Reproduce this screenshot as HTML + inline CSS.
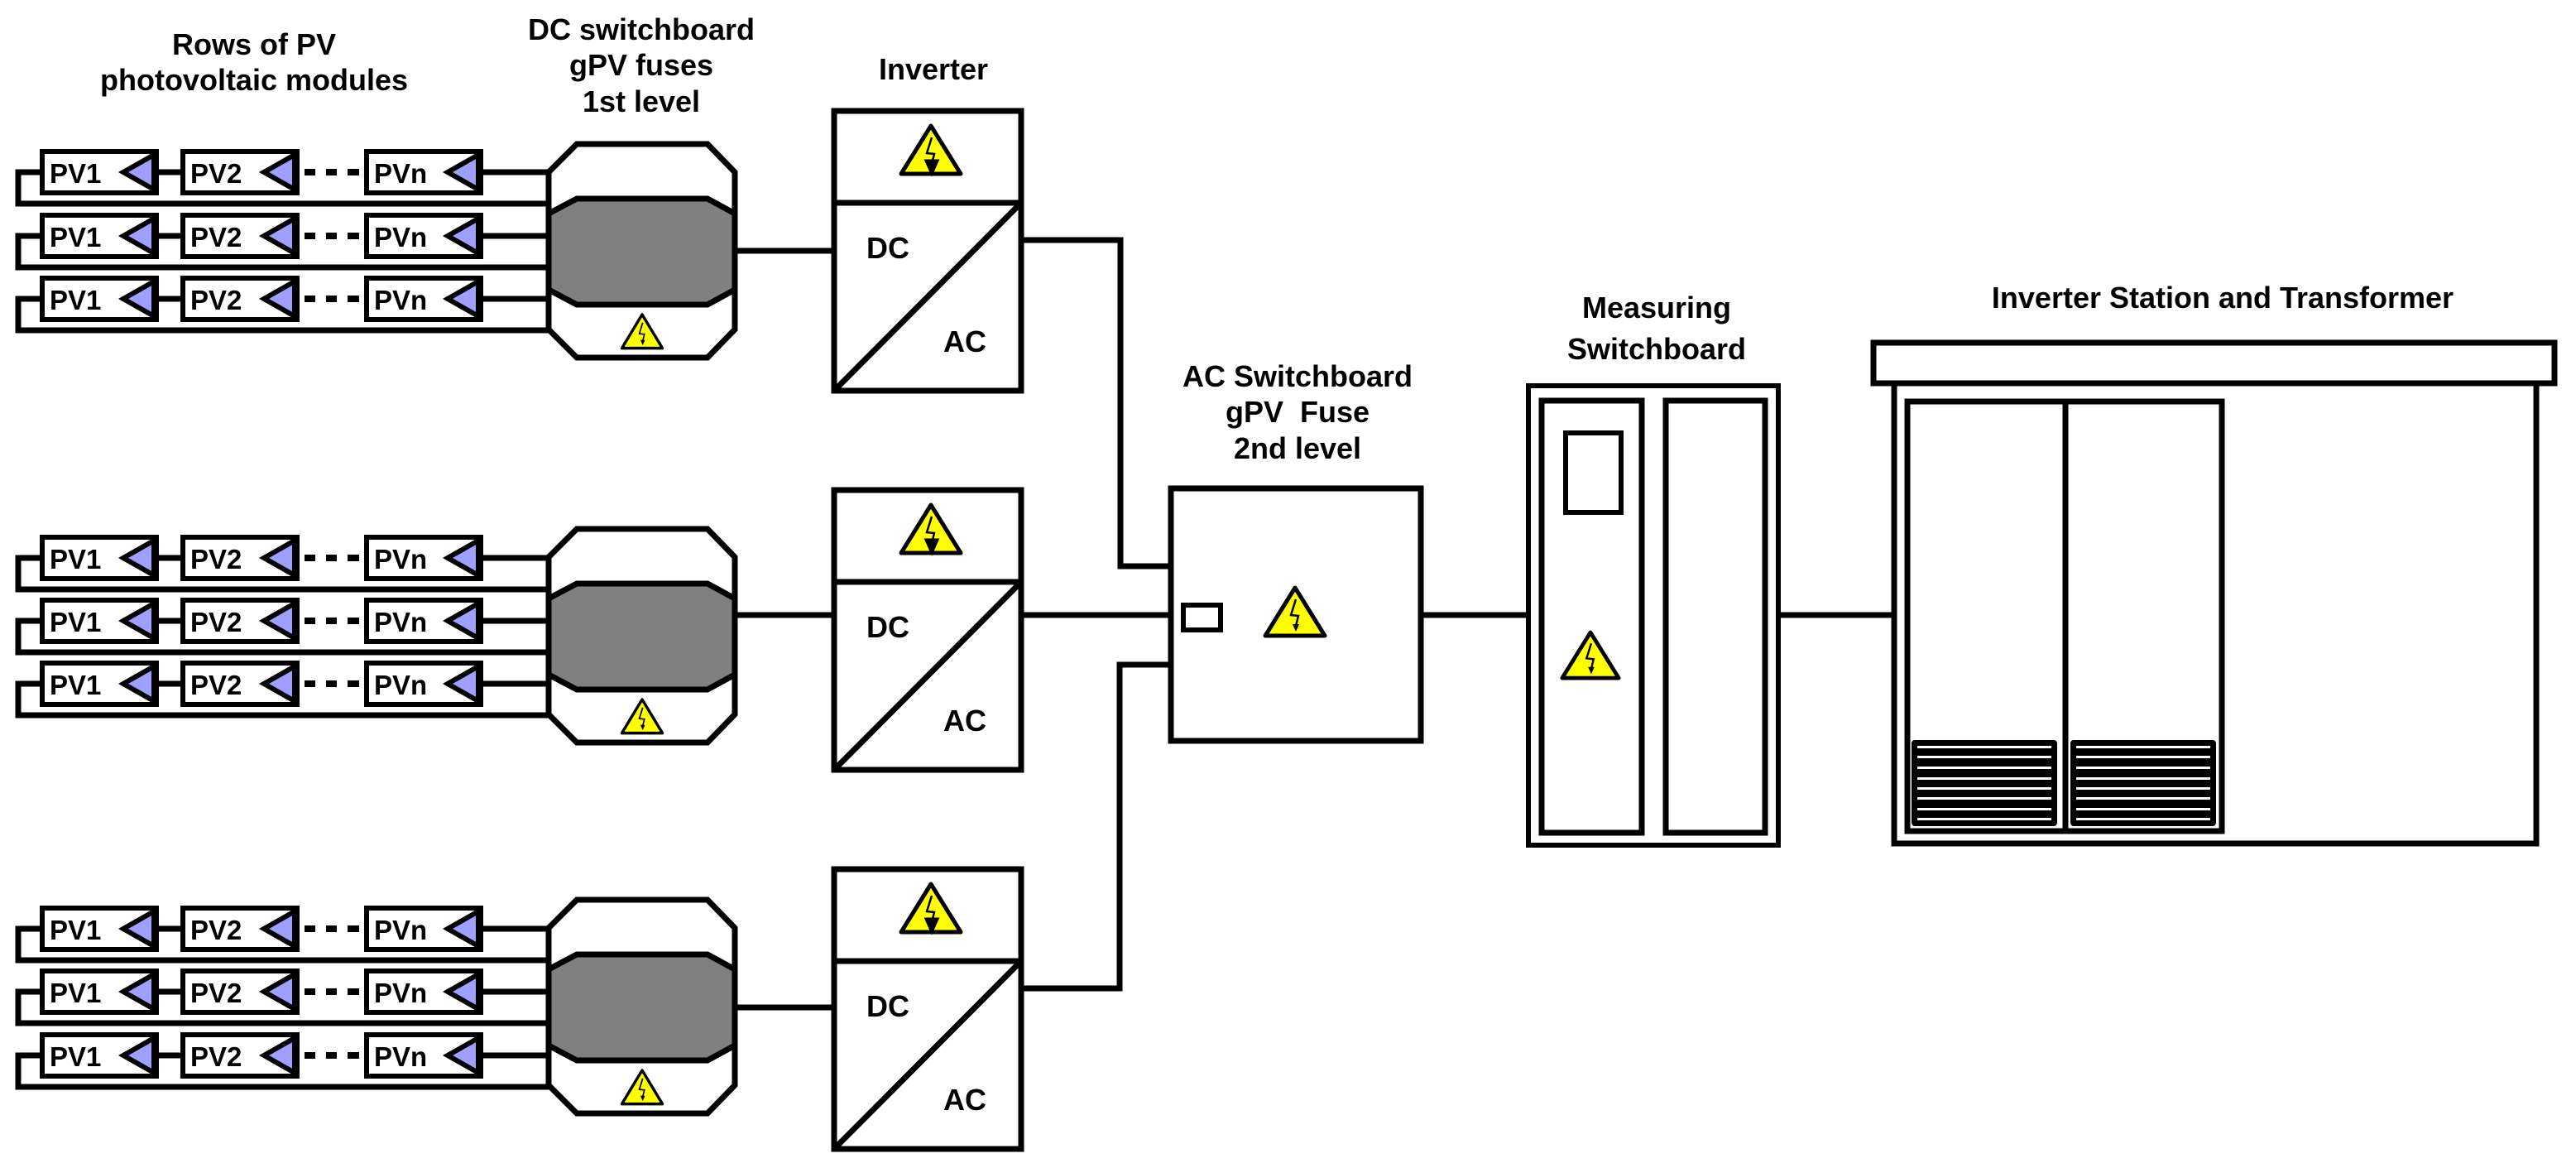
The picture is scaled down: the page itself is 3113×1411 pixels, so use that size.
<!DOCTYPE html>
<html><head><meta charset="utf-8"><style>
html,body{margin:0;padding:0;background:#fff;}
svg{display:block;}
text{font-family:"Liberation Sans",Arial,sans-serif;font-weight:bold;fill:#000;}
</style></head><body>
<svg width="3113" height="1411" viewBox="0 0 3113 1411" xmlns="http://www.w3.org/2000/svg">
<defs>
<g id="warn">
<polygon points="0,0 36,58 -36,58" fill="#ffff00" stroke="#000" stroke-width="5" stroke-linejoin="round"/>
<polyline points="1,14 -5,33 4,34 1,46" fill="none" stroke="#000" stroke-width="2.5"/>
<polygon points="-3,44 5,44 1,53" fill="#000"/>
</g>
<g id="rowshape" fill="none" stroke="#000">
<path d="M50 0H22V38H663" stroke-width="7"/>
<line x1="190" y1="0" x2="220" y2="0" stroke-width="7"/>
<line x1="580" y1="0" x2="663" y2="0" stroke-width="7"/>
<g stroke-width="8"><line x1="368" y1="0" x2="381" y2="0"/><line x1="394" y1="0" x2="407" y2="0"/><line x1="420" y1="0" x2="434" y2="0"/></g>
<rect x="51" y="-25" width="138" height="50" stroke-width="6"/>
<rect x="221" y="-25" width="138" height="50" stroke-width="6"/>
<rect x="443" y="-25" width="138" height="50" stroke-width="6"/>
<polygon points="149,0 186,-21 186,21" fill="#9f9fff" stroke-width="6" stroke-linejoin="miter"/>
<polygon points="319,0 356,-21 356,21" fill="#9f9fff" stroke-width="6"/>
<polygon points="541,0 578,-21 578,21" fill="#9f9fff" stroke-width="6"/>
</g>
<g id="oct">
<polygon points="697,174 855,174 888,208 888,398 855,432 697,432 663,398 663,208" fill="#fff" stroke="#000" stroke-width="7"/>
<polygon points="697,240 855,240 888,258 888,350 855,368 697,368 663,350 663,258" fill="#808080" stroke="#000" stroke-width="7"/>
<use href="#warn" transform="translate(776,380) scale(0.68,0.7)"/>
</g>
<g id="inv" fill="none" stroke="#000" stroke-width="7">
<rect x="1008" y="0" width="226" height="338" fill="#fff"/>
<line x1="1008" y1="111" x2="1234" y2="111"/>
<line x1="1008" y1="338" x2="1234" y2="111"/>
<use href="#warn" transform="translate(1125,18)"/>
</g>
</defs>

<!-- Titles -->
<text x="307" y="66" font-size="36" text-anchor="middle">Rows of PV</text>
<text x="307" y="109" font-size="36" text-anchor="middle">photovoltaic modules</text>
<text x="775" y="48" font-size="36" text-anchor="middle">DC switchboard</text>
<text x="775" y="91" font-size="36" text-anchor="middle">gPV fuses</text>
<text x="775" y="135" font-size="36" text-anchor="middle">1st level</text>
<text x="1128" y="96" font-size="36" text-anchor="middle">Inverter</text>
<text x="1568" y="467" font-size="36" text-anchor="middle">AC Switchboard</text>
<text x="1568" y="510" font-size="36" text-anchor="middle" xml:space="preserve">gPV&#160; Fuse</text>
<text x="1568" y="554" font-size="36" text-anchor="middle">2nd level</text>
<text x="2002" y="384" font-size="36" text-anchor="middle">Measuring</text>
<text x="2002" y="434" font-size="36" text-anchor="middle">Switchboard</text>
<text x="2686" y="372" font-size="36" text-anchor="middle">Inverter Station and Transformer</text>

<!-- PV groups -->
<g>
<use href="#oct"/>
<line x1="888" y1="303" x2="1008" y2="303" stroke="#000" stroke-width="7"/>
<g transform="translate(0,208)"><use href="#rowshape"/><text x="60" y="13" font-size="33">PV1</text><text x="230" y="13" font-size="33">PV2</text><text x="452" y="13" font-size="33">PVn</text></g>
<g transform="translate(0,285)"><use href="#rowshape"/><text x="60" y="13" font-size="33">PV1</text><text x="230" y="13" font-size="33">PV2</text><text x="452" y="13" font-size="33">PVn</text></g>
<g transform="translate(0,361)"><use href="#rowshape"/><text x="60" y="13" font-size="33">PV1</text><text x="230" y="13" font-size="33">PV2</text><text x="452" y="13" font-size="33">PVn</text></g>
</g>
<g>
<use href="#oct" transform="translate(0,465)"/>
<line x1="888" y1="743" x2="1008" y2="743" stroke="#000" stroke-width="7"/>
<g transform="translate(0,674)"><use href="#rowshape"/><text x="60" y="13" font-size="33">PV1</text><text x="230" y="13" font-size="33">PV2</text><text x="452" y="13" font-size="33">PVn</text></g>
<g transform="translate(0,750)"><use href="#rowshape"/><text x="60" y="13" font-size="33">PV1</text><text x="230" y="13" font-size="33">PV2</text><text x="452" y="13" font-size="33">PVn</text></g>
<g transform="translate(0,826)"><use href="#rowshape"/><text x="60" y="13" font-size="33">PV1</text><text x="230" y="13" font-size="33">PV2</text><text x="452" y="13" font-size="33">PVn</text></g>
</g>
<g>
<use href="#oct" transform="translate(0,913)"/>
<line x1="888" y1="1217" x2="1008" y2="1217" stroke="#000" stroke-width="7"/>
<g transform="translate(0,1122)"><use href="#rowshape"/><text x="60" y="13" font-size="33">PV1</text><text x="230" y="13" font-size="33">PV2</text><text x="452" y="13" font-size="33">PVn</text></g>
<g transform="translate(0,1198)"><use href="#rowshape"/><text x="60" y="13" font-size="33">PV1</text><text x="230" y="13" font-size="33">PV2</text><text x="452" y="13" font-size="33">PVn</text></g>
<g transform="translate(0,1275)"><use href="#rowshape"/><text x="60" y="13" font-size="33">PV1</text><text x="230" y="13" font-size="33">PV2</text><text x="452" y="13" font-size="33">PVn</text></g>
</g>

<!-- Inverters -->
<use href="#inv" transform="translate(0,134)"/>
<use href="#inv" transform="translate(0,592)"/>
<use href="#inv" transform="translate(0,1050)"/>
<g font-size="36">
<text x="1047" y="312">DC</text><text x="1140" y="425">AC</text>
<text x="1047" y="770">DC</text><text x="1140" y="883">AC</text>
<text x="1047" y="1228">DC</text><text x="1140" y="1341">AC</text>
</g>

<!-- Connectors to AC -->
<g fill="none" stroke="#000" stroke-width="7">
<path d="M1234 290H1354V684H1415"/>
<path d="M1234 743H1415"/>
<path d="M1234 1194H1353V803H1415"/>
<rect x="1415" y="590" width="302" height="305" fill="#fff"/>
<rect x="1430" y="731" width="45" height="30" stroke-width="6"/>
<line x1="1717" y1="743" x2="1847" y2="743"/>
<!-- Measuring -->
<rect x="1847" y="466" width="302" height="555" stroke-width="6"/>
<rect x="1863" y="484" width="121" height="522"/>
<rect x="2013" y="484" width="120" height="522"/>
<rect x="1892" y="523" width="67" height="96" stroke-width="6"/>
<line x1="2149" y1="743" x2="2289" y2="743"/>
<!-- Station -->
<rect x="2264" y="414" width="823" height="49"/>
<path d="M2289 466V1019H3065V466"/>
<rect x="2305" y="485" width="380" height="519"/>
<line x1="2496" y1="485" x2="2496" y2="1004"/>
</g>
<use href="#warn" transform="translate(1565,710)"/>
<use href="#warn" transform="translate(1922,764) scale(0.95)"/>

<!-- Grilles -->
<g>
<rect x="2310" y="894" width="176" height="104" rx="4" fill="#000"/>
<rect x="2502" y="894" width="176" height="104" rx="4" fill="#000"/>
<g fill="#fff">
<rect x="2317" y="901" width="162" height="3"/><rect x="2317" y="913" width="162" height="3"/><rect x="2317" y="926" width="162" height="3"/><rect x="2317" y="939" width="162" height="3"/><rect x="2317" y="951" width="162" height="3"/><rect x="2317" y="963" width="162" height="3"/><rect x="2317" y="976" width="162" height="3"/><rect x="2317" y="988" width="162" height="3"/>
<rect x="2509" y="901" width="162" height="3"/><rect x="2509" y="913" width="162" height="3"/><rect x="2509" y="926" width="162" height="3"/><rect x="2509" y="939" width="162" height="3"/><rect x="2509" y="951" width="162" height="3"/><rect x="2509" y="963" width="162" height="3"/><rect x="2509" y="976" width="162" height="3"/><rect x="2509" y="988" width="162" height="3"/>
</g>
</g>
</svg>
</body></html>
